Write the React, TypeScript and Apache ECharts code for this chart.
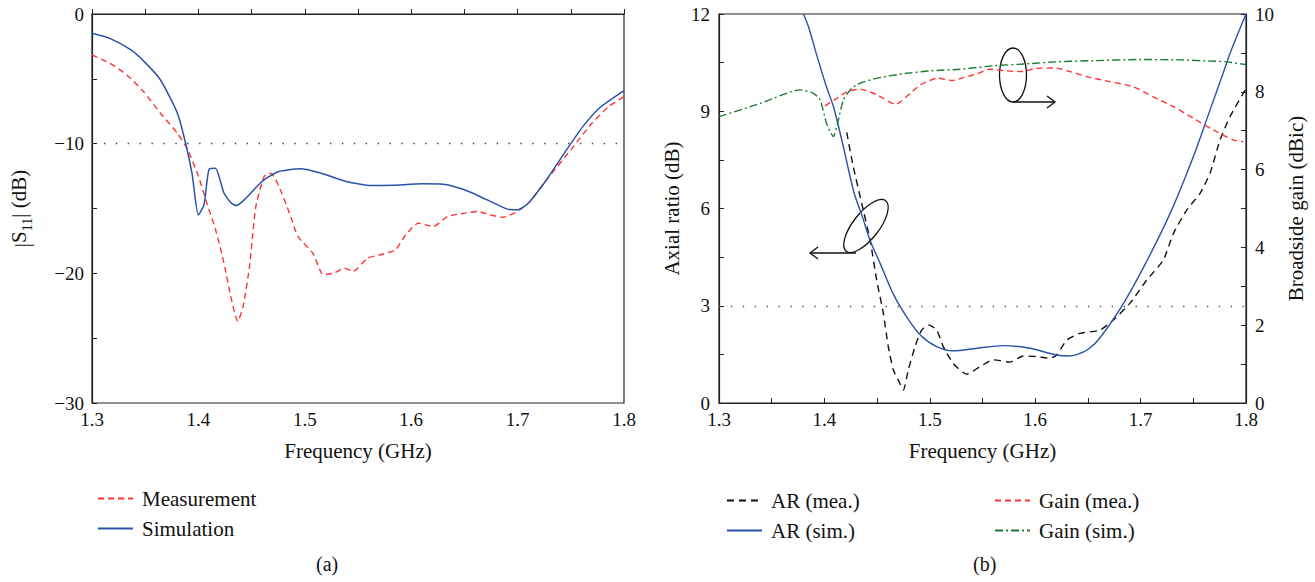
import React, { useEffect, useRef } from "react";
import * as echarts from "echarts";

// ---- Panel (a): |S11| ----
const s11MeasFreq = [1.3, 1.3167, 1.3326, 1.3485, 1.3644, 1.3803, 1.39, 1.4, 1.408, 1.416, 1.424, 1.431, 1.437, 1.442, 1.448, 1.454, 1.462, 1.468, 1.4757, 1.4856, 1.4936, 1.5075, 1.5174, 1.5273, 1.5373, 1.5452, 1.559, 1.571, 1.585, 1.5949, 1.6068, 1.6207, 1.634, 1.6506, 1.6625, 1.6744, 1.6863, 1.698, 1.71, 1.73, 1.75, 1.7698, 1.7857, 1.8];
const s11MeasDb = [-3.16, -3.8, -4.7, -5.99, -7.65, -9.2, -10.48, -12.5, -14.6, -16.6, -19.2, -22.0, -23.7, -22.55, -19.5, -14.85, -12.5, -12.28, -13.3, -15.36, -17.16, -18.44, -20.1, -19.98, -19.6, -19.86, -18.83, -18.57, -18.19, -17.03, -16.13, -16.39, -15.62, -15.36, -15.23, -15.49, -15.67, -15.3, -14.6, -12.5, -10.48, -8.43, -7.14, -6.37];

const s11SimFreq = [1.3, 1.3167, 1.3366, 1.35, 1.3644, 1.3803, 1.388, 1.394, 1.4, 1.4053, 1.41, 1.416, 1.424, 1.431, 1.436, 1.444, 1.46, 1.4757, 1.4955, 1.5154, 1.539, 1.563, 1.583, 1.6108, 1.63, 1.65, 1.67, 1.6903, 1.7002, 1.71, 1.726, 1.746, 1.7618, 1.7777, 1.8];
const s11SimDb = [-1.49, -1.88, -2.77, -3.75, -5.09, -7.65, -9.97, -12.3, -15.5, -14.7, -11.97, -11.9, -13.8, -14.6, -14.77, -14.26, -12.9, -12.15, -11.94, -12.28, -12.92, -13.23, -13.2, -13.1, -13.13, -13.56, -14.28, -15.05, -15.1, -14.6, -12.92, -10.48, -8.63, -7.19, -5.9];

// ---- Panel (b): axial ratio and gain ----
const arMeaFreq = [1.4212, 1.4274, 1.4354, 1.4433, 1.4496, 1.4559, 1.4606, 1.4654, 1.4701, 1.4749, 1.4796, 1.486, 1.4923, 1.4986, 1.5065, 1.5128, 1.5223, 1.535, 1.5476, 1.5602, 1.5761, 1.5887, 1.6014, 1.614, 1.6204, 1.6299, 1.6425, 1.6615, 1.6741, 1.69, 1.7058, 1.7216, 1.7311, 1.7437, 1.7564, 1.7659, 1.7753, 1.7848, 1.7991];
const arMeaDb = [8.35, 7.29, 6.16, 5.03, 3.79, 2.77, 1.74, 1.02, 0.71, 0.4, 1.02, 1.74, 2.25, 2.41, 2.25, 1.74, 1.22, 0.89, 1.12, 1.33, 1.26, 1.45, 1.43, 1.38, 1.48, 1.94, 2.15, 2.25, 2.56, 3.08, 3.79, 4.41, 5.23, 5.95, 6.47, 7.09, 8.11, 8.83, 9.65];

const arSimFreq = [1.38, 1.385, 1.393, 1.402, 1.409, 1.418, 1.428, 1.436, 1.4435, 1.453, 1.4655, 1.478, 1.491, 1.5065, 1.522, 1.545, 1.57, 1.595, 1.62, 1.632, 1.64, 1.65, 1.66, 1.68, 1.703, 1.728, 1.75, 1.766, 1.7786, 1.785, 1.8];
const arSimDb = [12.0, 11.6, 10.7, 9.75, 9.1, 7.9, 6.5, 5.75, 5.0, 4.3, 3.35, 2.66, 2.1, 1.74, 1.61, 1.69, 1.77, 1.69, 1.48, 1.45, 1.5, 1.65, 1.95, 2.87, 4.2, 5.85, 7.6, 9.05, 10.2, 10.8, 12.0];

const gainMeaFreq = [1.4006, 1.4117, 1.4212, 1.4342, 1.45, 1.4677, 1.4815, 1.4913, 1.5072, 1.521, 1.5328, 1.5445, 1.5565, 1.5723, 1.588, 1.6, 1.6197, 1.633, 1.6489, 1.671, 1.6931, 1.712, 1.731, 1.75, 1.769, 1.788, 1.7975];
const gainMeaDbic = [7.64, 7.83, 8.0, 8.07, 7.92, 7.68, 7.96, 8.18, 8.35, 8.29, 8.37, 8.46, 8.58, 8.54, 8.52, 8.6, 8.61, 8.52, 8.39, 8.26, 8.13, 7.87, 7.62, 7.32, 7.02, 6.76, 6.72];

const gainSimFreq = [1.3, 1.339, 1.377, 1.3895, 1.396, 1.402, 1.4085, 1.4132, 1.418, 1.4259, 1.4338, 1.45, 1.4736, 1.5012, 1.5289, 1.5605, 1.592, 1.6197, 1.655, 1.6986, 1.738, 1.7657, 1.7817, 1.8];
const gainSimDbic = [7.36, 7.7, 8.05, 7.96, 7.79, 7.19, 6.85, 7.27, 7.79, 8.09, 8.22, 8.35, 8.46, 8.54, 8.58, 8.67, 8.72, 8.77, 8.8, 8.83, 8.82, 8.79, 8.77, 8.7];

// ---- axes / labels ----
const freqMin = 1.3;
const freqMax = 1.8;
const freqTickStep = 0.05;
const s11Min = -30;
const s11Max = 0;
const s11TickStep = 5;
const arMin = 0;
const arMax = 12;
const arTickStep = 1.5;
const gainMin = 0;
const gainMax = 10;
const gainTickStep = 1;
const s11Threshold = -10;
const arThreshold = 3;

const FONT = "Liberation Serif, serif";
const AXIS_COLOR = "#222";

const zip = (xs: number[], ys: number[]) => xs.map((x, i) => [x, ys[i]]);

export default function App() {
  const ref = useRef<HTMLDivElement>(null);

  useEffect(() => {
    document.body.style.margin = "0";
    const chart = echarts.init(ref.current!, undefined, { renderer: "svg" });

    const labelStyle = { fontFamily: FONT, fontSize: 19, color: "#111" };
    const nameStyle = { fontFamily: FONT, fontSize: 21, color: "#111" };
    const legendText = { fontFamily: FONT, fontSize: 21, color: "#111", padding: [0, 0, 0, 4] };

    const freqAxis = (gridIndex: number) => ({
      type: "value",
      gridIndex,
      min: freqMin,
      max: freqMax,
      interval: freqTickStep,
      name: "Frequency (GHz)",
      nameLocation: "middle",
      nameGap: 37,
      nameTextStyle: nameStyle,
      axisLine: { show: true, lineStyle: { color: AXIS_COLOR, width: 1.2 } },
      axisTick: { show: true, inside: true, length: 5, lineStyle: { color: AXIS_COLOR } },
      axisLabel: {
        ...labelStyle,
        margin: 7,
        formatter: (v: number) => {
          const r = Math.round(v * 100);
          return r % 10 === 0 ? (r / 100).toFixed(1) : "";
        },
      },
      splitLine: { show: false },
    });

    const option: any = {
      animation: false,
      backgroundColor: "#fff",
      grid: [
        { left: 92, top: 14, width: 532, height: 389, show: true, borderColor: AXIS_COLOR, borderWidth: 1.2 },
        { left: 719, top: 14, width: 527, height: 389, show: true, borderColor: AXIS_COLOR, borderWidth: 1.2 },
      ],
      xAxis: [freqAxis(0), freqAxis(1)],
      yAxis: [
        {
          type: "value",
          gridIndex: 0,
          min: s11Min,
          max: s11Max,
          interval: s11TickStep,
          name: "|{s|S}{sub|11}{s|| (dB)}",
          nameLocation: "middle",
          nameRotate: 90,
          nameGap: 56,
          nameTextStyle: {
            ...nameStyle,
            rich: {
              s: { fontFamily: FONT, fontSize: 21, color: "#111", lineHeight: 28, verticalAlign: "top" },
              sub: { fontFamily: FONT, fontSize: 14, color: "#111", lineHeight: 28, verticalAlign: "bottom", padding: [0, 0, 2, 0] },
            },
          },
          axisLine: { show: true, lineStyle: { color: AXIS_COLOR, width: 1.2 } },
          axisTick: { show: true, inside: true, length: 5, lineStyle: { color: AXIS_COLOR } },
          axisLabel: {
            ...labelStyle,
            margin: 8,
            formatter: (v: number) => (v % 10 === 0 ? String(v).replace("-", "\u2212") : ""),
          },
          splitLine: { show: false },
        },
        {
          type: "value",
          gridIndex: 1,
          position: "left",
          min: arMin,
          max: arMax,
          interval: arTickStep,
          name: "Axial ratio (dB)",
          nameLocation: "middle",
          nameRotate: 90,
          nameGap: 37,
          nameTextStyle: nameStyle,
          axisLine: { show: true, lineStyle: { color: AXIS_COLOR, width: 1.2 } },
          axisTick: { show: true, inside: true, length: 5, lineStyle: { color: AXIS_COLOR } },
          axisLabel: {
            ...labelStyle,
            margin: 9,
            formatter: (v: number) => (Math.abs(v % 3) < 1e-9 ? String(v) : ""),
          },
          splitLine: { show: false },
        },
        {
          type: "value",
          gridIndex: 1,
          position: "right",
          min: gainMin,
          max: gainMax,
          interval: gainTickStep,
          name: "Broadside gain (dBic)",
          nameLocation: "middle",
          nameRotate: 90,
          nameGap: 39,
          nameTextStyle: nameStyle,
          axisLine: { show: true, lineStyle: { color: AXIS_COLOR, width: 1.2 } },
          axisTick: { show: true, inside: true, length: 5, lineStyle: { color: AXIS_COLOR } },
          axisLabel: {
            ...labelStyle,
            margin: 9,
            formatter: (v: number) => (v % 2 === 0 ? String(v) : ""),
          },
          splitLine: { show: false },
        },
      ],
      legend: [
        {
          data: ["Measurement", "Simulation"],
          left: 92,
          top: 483,
          orient: "vertical",
          itemWidth: 35,
          itemHeight: 14,
          itemGap: 9,
          itemStyle: { opacity: 0 },
          textStyle: legendText,
        },
        {
          data: ["AR (mea.)", "AR (sim.)"],
          left: 721,
          top: 485,
          orient: "vertical",
          itemWidth: 35,
          itemHeight: 14,
          itemGap: 9,
          itemStyle: { opacity: 0 },
          textStyle: legendText,
        },
        {
          data: ["Gain (mea.)", "Gain (sim.)"],
          left: 989,
          top: 485,
          orient: "vertical",
          itemWidth: 35,
          itemHeight: 14,
          itemGap: 9,
          itemStyle: { opacity: 0 },
          textStyle: legendText,
        },
      ],
      series: [
        {
          name: "Measurement",
          type: "line",
          xAxisIndex: 0,
          yAxisIndex: 0,
          data: zip(s11MeasFreq, s11MeasDb),
          symbol: "none",
          smooth: 0.2,
          color: "#ff3333",
          lineStyle: { color: "#ff3333", width: 1.4, type: [6, 4] },
          markLine: {
            silent: true,
            symbol: "none",
            label: { show: false },
            lineStyle: { color: "#444", width: 1.4, type: [1.4, 10.5] },
            data: [{ yAxis: s11Threshold }],
          },
        },
        {
          name: "Simulation",
          type: "line",
          xAxisIndex: 0,
          yAxisIndex: 0,
          data: zip(s11SimFreq, s11SimDb),
          symbol: "none",
          smooth: 0.2,
          color: "#2a52a8",
          lineStyle: { color: "#2a52a8", width: 1.5 },
        },
        {
          name: "AR (mea.)",
          type: "line",
          xAxisIndex: 1,
          yAxisIndex: 1,
          data: zip(arMeaFreq, arMeaDb),
          symbol: "none",
          smooth: 0.2,
          color: "#111",
          lineStyle: { color: "#111", width: 1.4, type: [7, 5] },
          markLine: {
            silent: true,
            symbol: "none",
            label: { show: false },
            lineStyle: { color: "#555", width: 1.4, type: [1.4, 10.5] },
            data: [{ yAxis: arThreshold }],
          },
        },
        {
          name: "AR (sim.)",
          type: "line",
          xAxisIndex: 1,
          yAxisIndex: 1,
          data: zip(arSimFreq, arSimDb),
          symbol: "none",
          smooth: 0.3,
          color: "#2a52a8",
          lineStyle: { color: "#2a52a8", width: 1.4 },
        },
        {
          name: "Gain (mea.)",
          type: "line",
          xAxisIndex: 1,
          yAxisIndex: 2,
          data: zip(gainMeaFreq, gainMeaDbic),
          symbol: "none",
          smooth: 0.2,
          color: "#ff3333",
          lineStyle: { color: "#ff3333", width: 1.4, type: [6, 4] },
        },
        {
          name: "Gain (sim.)",
          type: "line",
          xAxisIndex: 1,
          yAxisIndex: 2,
          data: zip(gainSimFreq, gainSimDbic),
          symbol: "none",
          smooth: 0.2,
          color: "#1e7a33",
          lineStyle: { color: "#1e7a33", width: 1.4, type: [8, 3, 2, 3] },
        },
      ],
      graphic: [
        { type: "text", left: 316, top: 554, style: { text: "(a)", fontFamily: FONT, fontSize: 20, fill: "#111" } },
        { type: "text", left: 973, top: 554, style: { text: "(b)", fontFamily: FONT, fontSize: 20, fill: "#111" } },
        // gain annotation (ellipse + arrow to the right)
        {
          type: "ellipse",
          shape: { cx: 1013, cy: 75, rx: 13.5, ry: 27 },
          style: { fill: "none", stroke: "#111", lineWidth: 1.3 },
        },
        { type: "line", shape: { x1: 1013, y1: 102, x2: 1055, y2: 102 }, style: { stroke: "#111", lineWidth: 1.3 } },
        {
          type: "polyline",
          shape: { points: [[1047, 96], [1055, 102], [1047, 108]] },
          style: { fill: "none", stroke: "#111", lineWidth: 1.3 },
        },
        // axial ratio annotation (tilted ellipse + arrow to the left)
        {
          type: "group",
          x: 866,
          y: 226,
          rotation: (52 * Math.PI) / 180,
          children: [
            {
              type: "ellipse",
              shape: { cx: 0, cy: 0, rx: 32, ry: 13 },
              style: { fill: "none", stroke: "#111", lineWidth: 1.3 },
            },
          ],
        },
        { type: "line", shape: { x1: 856, y1: 253, x2: 810, y2: 253 }, style: { stroke: "#111", lineWidth: 1.3 } },
        {
          type: "polyline",
          shape: { points: [[818, 247], [810, 253], [818, 259]] },
          style: { fill: "none", stroke: "#111", lineWidth: 1.3 },
        },
      ],
    };

    chart.setOption(option);
    return () => chart.dispose();
  }, []);

  return <div ref={ref} style={{ width: 1315, height: 582 }} />;
}
